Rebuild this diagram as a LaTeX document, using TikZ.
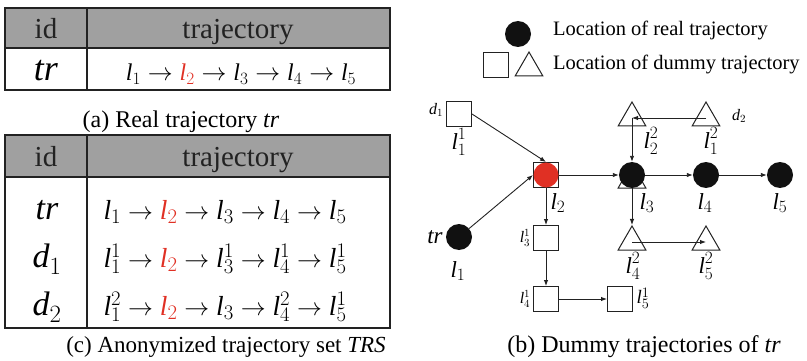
\documentclass[tikz,border=0pt]{standalone}
\usepackage{fontspec}
\setmainfont{Liberation Serif}
\usetikzlibrary{arrows.meta, shapes.geometric}
\tikzset{
    link/.style={-{Latex[length=6pt,width=4.5pt]}, line width=0.9pt, draw=g},
    real/.style={circle, fill=b, minimum size=26pt, inner sep=0pt},
    dummy/.style={draw=g, line width=1pt, fill=white, minimum size=25pt, inner sep=0pt},
    dummytri/.style={regular polygon, regular polygon sides=3, draw=g, line width=1pt,
        fill=white, minimum size=32pt, inner sep=0pt},
    lab/.style={font=\fontsize{23}{23}\selectfont, inner sep=0pt},
    sublab/.style={font=\fontsize{16}{16}\selectfont, inner sep=0pt},
    caption/.style={font=\fontsize{24}{24}\selectfont, anchor=base},
    legend/.style={font=\fontsize{20.5}{20.5}\selectfont, anchor=base west, inner sep=0pt},
    head/.style={font=\fontsize{29}{29}\selectfont, text=g, anchor=base},
    cell/.style={font=\fontsize{24}{24}\selectfont, anchor=base},
    tabframe/.style={line width=1.4pt, draw=g}
}
\definecolor{r}{RGB}{224, 48, 36}
\definecolor{hd}{RGB}{160, 160, 160}
\definecolor{g}{HTML}{222222}
\definecolor{b}{HTML}{111111}
\newcommand{\loc}[1]{$\mathit{l}_{#1}$}
\newcommand{\locs}[2]{$\mathit{l}_{#1}^{#2}$}
\newcommand{\red}[1]{\textcolor{r}{#1}}
\newcommand{\nxt}{$\;\rightarrow\;$}

\begin{document}
\begin{tikzpicture}[x=1pt, y=-1pt]
    \useasboundingbox (0,0) rectangle (807,361);
    % table (a)
    \fill[hd] (5,8) rectangle (390,48);
    \draw[tabframe] (5,8) rectangle (390,90);
    \draw[tabframe] (5,48) -- (390,48);
    \draw[tabframe] (87,8) -- (87,90);
    \node[head] (aid) at (46,39) {id};
    \node[head] (atr) at (238,39) {trajectory};
    \node[cell, font=\fontsize{36}{36}\selectfont] (arow) at (46,81) {\textit{tr}};
    \node[cell] (apath) at (241,81) {\loc{1}\nxt\red{\loc{2}}\nxt\loc{3}\nxt\loc{4}\nxt\loc{5}};
    \node[caption] (acap) at (181,128) {(a) Real trajectory \textit{tr}};
    % table (c)
    \fill[hd] (5,135) rectangle (390,177);
    \draw[tabframe] (5,135) rectangle (390,328);
    \draw[tabframe] (5,177) -- (390,177);
    \draw[tabframe] (87,135) -- (87,328);
    \node[head] (cid) at (46,166) {id};
    \node[head] (ctr) at (238,166) {trajectory};
    \node[cell, font=\fontsize{34}{34}\selectfont] (crow1) at (47,219) {\textit{tr}};
    \node[cell, font=\fontsize{34}{34}\selectfont] (crow2) at (47,267) {$\mathit{d}_1$};
    \node[cell, font=\fontsize{34}{34}\selectfont] (crow3) at (47,315) {$\mathit{d}_2$};
    \node[cell, anchor=base west, font=\fontsize{27.5}{27.5}\selectfont] (cpath1) at (100,219)
        {\loc{1}\nxt\red{\loc{2}}\nxt\loc{3}\nxt\loc{4}\nxt\loc{5}};
    \node[cell, anchor=base west, font=\fontsize{27.5}{27.5}\selectfont] (cpath2) at (100,267)
        {\locs{1}{1}\nxt\red{\loc{2}}\nxt\locs{3}{1}\nxt\locs{4}{1}\nxt\locs{5}{1}};
    \node[cell, anchor=base west, font=\fontsize{27.5}{27.5}\selectfont] (cpath3) at (100,315)
        {\locs{1}{2}\nxt\red{\loc{2}}\nxt\loc{3}\nxt\locs{4}{2}\nxt\locs{5}{1}};
    \node[caption, font=\fontsize{23}{23}\selectfont] (ccap) at (226,352) {(c) Anonymized trajectory set \textit{TRS}};
    % legend
    \node[real] (legreal) at (518,34) {};
    \node[dummy] (legsq) at (496,65) {};
    \node[dummytri] (legtri) at (529,68) {};
    \node[legend] (legtxt1) at (553,36) {Location of real trajectory};
    \node[legend] (legtxt2) at (553,70) {Location of dummy trajectory};
    % locations
    \node[dummy] (d1sq) at (459,114) {};
    \node[dummy] (l2sq) at (546,175) {};
    \node[real, fill=r, minimum size=25pt] (l2) at (546,175) {};
    \node[dummytri] (l3tri) at (632,180) {};
    \node[real] (l3) at (632,175) {};
    \node[real] (l4) at (706,175) {};
    \node[real] (l5) at (780,175) {};
    \node[real] (l1) at (459,237) {};
    \node[dummytri] (t22) at (632,118) {};
    \node[dummytri] (t12) at (706,118) {};
    \node[dummy] (s31) at (546,238) {};
    \node[dummy] (s41) at (546,299) {};
    \node[dummy] (s51) at (620,299) {};
    \node[dummytri] (t42) at (632,242) {};
    \node[dummytri] (t52) at (706,242) {};
    % moves
    \draw[link] (d1sq.east) -- (l2sq.north);
    \draw[link] (l1) -- (l2sq.west);
    \draw[link] (l2sq) -- (l3);
    \draw[link] (l3) -- (l4);
    \draw[link] (l4) -- (l5);
    \draw[link] (t12.center) -- (t22.center);
    \draw[link] (t22.center) -- (l3);
    \draw[link] (l3) -- (t42.north);
    \draw[link] (t42.center) -- (t52.center);
    \draw[link] (l2sq) -- (s31);
    \draw[link] (s31) -- (s41);
    \draw[link] (s41) -- (s51);
    % labels
    \node[sublab] (d1lab) at (436,110) {$\mathit{d}_1$};
    \node[sublab] (d2lab) at (739,116) {$\mathit{d}_2$};
    \node[lab] (l11lab) at (459,142) {\locs{1}{1}};
    \node[lab] (l22lab) at (651,141) {\locs{2}{2}};
    \node[lab] (l12lab) at (711,141) {\locs{1}{2}};
    \node[lab] (l2lab) at (558,203) {\loc{2}};
    \node[lab] (l3lab) at (647,203) {\loc{3}};
    \node[lab] (l4lab) at (705,203) {\loc{4}};
    \node[lab] (l5lab) at (780,203) {\loc{5}};
    \node[lab] (l1lab) at (458,271) {\loc{1}};
    \node[lab] (trlab) at (435,237) {\textit{tr}};
    \node[sublab] (l31lab) at (525,238) {\locs{3}{1}};
    \node[sublab] (l41lab) at (525,299) {\locs{4}{1}};
    \node[lab, font=\fontsize{19}{19}\selectfont] (l51lab) at (643,298) {\locs{5}{1}};
    \node[lab] (l42lab) at (633,266) {\locs{4}{2}};
    \node[lab] (l52lab) at (706,266) {\locs{5}{2}};
    \node[caption] (bcap) at (644,352) {(b) Dummy trajectories of \textit{tr}};
\end{tikzpicture}
\end{document}
